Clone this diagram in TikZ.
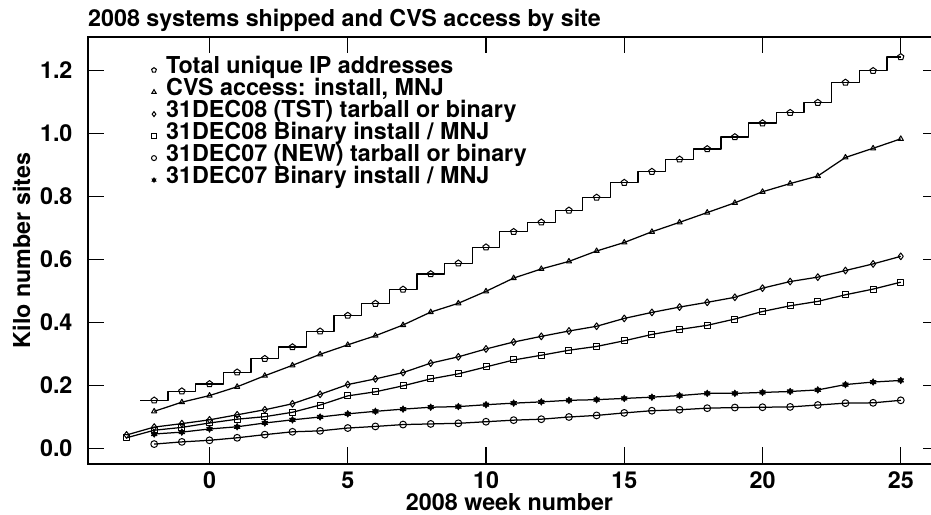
\documentclass[tikz,border=0pt]{standalone}
\usepackage{fontspec}
\setmainfont{TeX Gyre Heros}
\usetikzlibrary{plotmarks}

% filled six-pointed star used for the 31DEC07 binary series
\pgfdeclareplotmark{hexstar}{%
  \pgfpathmoveto{\pgfqpointpolar{90}{\pgfplotmarksize}}%
  \pgfpathlineto{\pgfqpointpolar{210}{\pgfplotmarksize}}%
  \pgfpathlineto{\pgfqpointpolar{330}{\pgfplotmarksize}}%
  \pgfpathclose
  \pgfpathmoveto{\pgfqpointpolar{270}{\pgfplotmarksize}}%
  \pgfpathlineto{\pgfqpointpolar{30}{\pgfplotmarksize}}%
  \pgfpathlineto{\pgfqpointpolar{150}{\pgfplotmarksize}}%
  \pgfpathclose
  \pgfusepathqfillstroke}

\tikzset{
  txt/.style={font=\fontsize{23.3}{23.3}\selectfont\bfseries, inner sep=0pt},
  frameline/.style={line width=1.4pt, line cap=rect},
  tickline/.style={line width=1.2pt},
  series/.style={line width=1.25pt, line join=round},
  marks/.style={only marks, mark size=3.3pt, mark options={line width=1pt, solid}},
  keymark/.style={only marks, mark size=2.5pt, mark options={line width=1pt}},
  keytext/.style={txt, anchor=base west},
}

\begin{document}
\begin{tikzpicture}[x=1pt, y=1pt]
\useasboundingbox (0,0) rectangle (931,514);

% frame (the right side runs off the page)
\draw[frameline] (931,477) -- (88,477) -- (88,50) -- (931,50);

% title and axis labels
\node[txt, anchor=base west] (title) at (88,487) {2008 systems shipped and CVS access by site};
\node[txt, anchor=base] (xlabel) at (509.5,3.6) {2008 week number};
\node[txt, anchor=base, rotate=90] (ylabel) at (30,263.5) {Kilo number sites};

% data scope: one unit = one week horizontally, one thousand sites vertically
\begin{scope}[shift={(209.5pt,65.5pt)}, x=27.65pt, y=315pt]
  % y ticks and labels
  \foreach \v/\lab in {0/0.0, 0.2/0.2, 0.4/0.4, 0.6/0.6, 0.8/0.8, 1.0/1.0, 1.2/1.2} {
    \draw[tickline] (-4.394,\v) -- (-3.815,\v);
    \draw[tickline] (25.805,\v) -- (26.2,\v);
    \node[txt, anchor=east] (ylab-\v) at (-4.95,\v) {\lab};
  }
  % x ticks and labels
  \foreach \w in {0,5,...,25} {
    \draw[tickline] (\w,-0.0492) -- (\w,0.0048);
    \draw[tickline] (\w,1.3063) -- (\w,1.2555);
    \node[txt, anchor=base] (xlab-\w) at (\w,-0.1280) {\w};
  }

  % Total unique IP addresses: step line
  \draw[series] (-2.5,0.153) -| (-1.5,0.182) -| (-0.5,0.205) -| (0.5,0.242)
    -| (1.5,0.285) -| (2.5,0.322) -| (3.5,0.372) -| (4.5,0.422) -| (5.5,0.460)
    -| (6.5,0.505) -| (7.5,0.554) -| (8.5,0.588) -| (9.5,0.639) -| (10.5,0.688)
    -| (11.5,0.718) -| (12.5,0.756) -| (13.5,0.797) -| (14.5,0.844) -| (15.5,0.879)
    -| (16.5,0.918) -| (17.5,0.951) -| (18.5,0.989) -| (19.5,1.033) -| (20.5,1.066)
    -| (21.5,1.098) -| (22.5,1.162) -| (23.5,1.199) -| (24.5,1.243) -- (25,1.243);
  \draw plot[marks, mark=pentagon] coordinates {
    (-2,0.153) (-1,0.182) (0,0.205) (1,0.242) (2,0.285) (3,0.322) (4,0.372)
    (5,0.422) (6,0.460) (7,0.505) (8,0.554) (9,0.588) (10,0.639) (11,0.688)
    (12,0.718) (13,0.756) (14,0.797) (15,0.844) (16,0.879) (17,0.918) (18,0.951)
    (19,0.989) (20,1.033) (21,1.066) (22,1.098) (23,1.162) (24,1.199) (25,1.243)};

  % CVS access
  \draw[series] plot[mark=triangle, mark size=3pt, mark options={line width=1pt}] coordinates {
    (-2,0.118) (-1,0.147) (0,0.168) (1,0.196) (2,0.231) (3,0.264) (4,0.299)
    (5,0.329) (6,0.358) (7,0.392) (8,0.433) (9,0.461) (10,0.499) (11,0.541)
    (12,0.570) (13,0.594) (14,0.627) (15,0.654) (16,0.688) (17,0.718) (18,0.749)
    (19,0.780) (20,0.815) (21,0.841) (22,0.865) (23,0.924) (24,0.953) (25,0.983)};

  % 31DEC08 (TST) tarball or binary
  \draw[series] plot[mark=diamond, mark size=3.4pt, mark options={line width=1pt}] coordinates {
    (-3,0.043) (-2,0.068) (-1,0.079) (0,0.091) (1,0.107) (2,0.123) (3,0.142)
    (4,0.172) (5,0.203) (6,0.221) (7,0.241) (8,0.271) (9,0.291) (10,0.316)
    (11,0.338) (12,0.356) (13,0.373) (14,0.388) (15,0.413) (16,0.432) (17,0.449)
    (18,0.464) (19,0.480) (20,0.509) (21,0.530) (22,0.544) (23,0.565) (24,0.586) (25,0.610)};

  % 31DEC08 Binary install / MNJ
  \draw[series] plot[mark=square, mark size=3pt, mark options={line width=1pt}] coordinates {
    (-3,0.034) (-2,0.058) (-1,0.067) (0,0.081) (1,0.093) (2,0.101) (3,0.115)
    (4,0.138) (5,0.167) (6,0.180) (7,0.199) (8,0.221) (9,0.237) (10,0.259)
    (11,0.281) (12,0.296) (13,0.312) (14,0.324) (15,0.342) (16,0.362) (17,0.378)
    (18,0.391) (19,0.411) (20,0.435) (21,0.453) (22,0.467) (23,0.488) (24,0.506) (25,0.528)};

  % 31DEC07 (NEW) tarball or binary
  \draw[series] plot[mark=o, mark size=3.4pt, mark options={line width=1pt}] coordinates {
    (-2,0.014) (-1,0.021) (0,0.026) (1,0.034) (2,0.044) (3,0.053) (4,0.056)
    (5,0.065) (6,0.070) (7,0.076) (8,0.078) (9,0.080) (10,0.085) (11,0.090)
    (12,0.093) (13,0.100) (14,0.105) (15,0.113) (16,0.120) (17,0.123) (18,0.128)
    (19,0.130) (20,0.131) (21,0.132) (22,0.138) (23,0.144) (24,0.145) (25,0.153)};

  % 31DEC07 Binary install / MNJ
  \draw[series] plot[mark=hexstar, mark size=3.4pt, mark options={line width=0.6pt, fill=black}] coordinates {
    (-2,0.046) (-1,0.052) (0,0.062) (1,0.069) (2,0.081) (3,0.091) (4,0.100)
    (5,0.110) (6,0.118) (7,0.125) (8,0.131) (9,0.133) (10,0.139) (11,0.144)
    (12,0.148) (13,0.153) (14,0.155) (15,0.159) (16,0.163) (17,0.168) (18,0.175)
    (19,0.175) (20,0.178) (21,0.181) (22,0.186) (23,0.203) (24,0.211) (25,0.216)};
\end{scope}

% key: one marker and one label per row
\draw plot[keymark, mark=pentagon] coordinates {(154,443.9)};
\node[keytext] (key-ip) at (166,440.7) {Total unique IP addresses};
\draw plot[keymark, mark=triangle] coordinates {(154,421.9)};
\node[keytext] (key-cvs) at (166,418.7) {CVS access: install, MNJ};
\draw plot[keymark, mark=diamond] coordinates {(154,399.9)};
\node[keytext] (key-tst) at (166,396.8) {31DEC08 (TST) tarball or binary};
\draw plot[keymark, mark=square, mark size=2.1pt] coordinates {(154,377.9)};
\node[keytext] (key-bin08) at (166,374.8) {31DEC08 Binary install / MNJ};
\draw plot[keymark, mark=o] coordinates {(154,355.9)};
\node[keytext] (key-new) at (166,352.8) {31DEC07 (NEW) tarball or binary};
\draw plot[keymark, mark=hexstar, mark options={line width=0.5pt, fill=black}] coordinates {(154,333.9)};
\node[keytext] (key-bin07) at (166,330.8) {31DEC07 Binary install / MNJ};
\end{tikzpicture}
\end{document}
